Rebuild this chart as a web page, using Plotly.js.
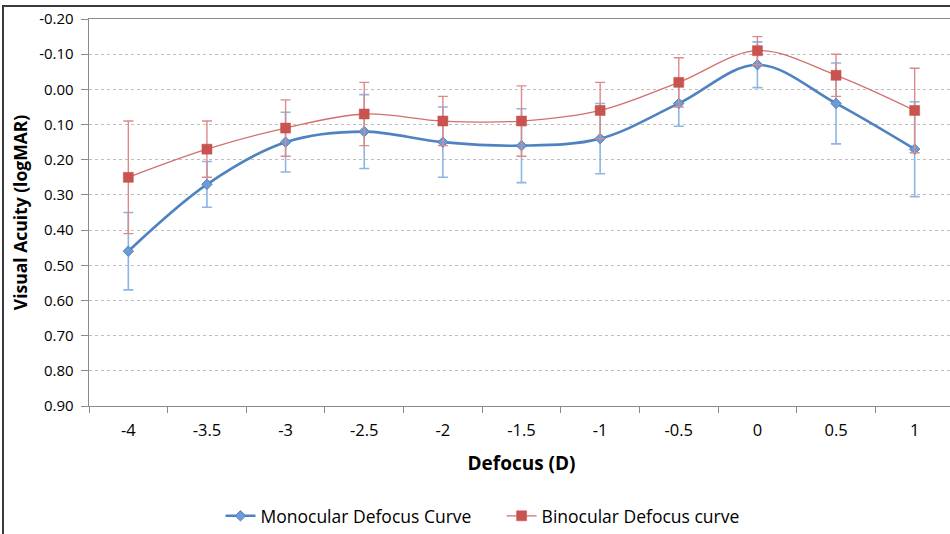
<!DOCTYPE html>
<html>
<head>
<meta charset="utf-8">
<script src="https://cdn.plot.ly/plotly-3.0.1.min.js"></script>
<style>
  html, body { margin: 0; padding: 0; background: #fff; overflow: hidden; width: 950px; height: 534px; }
  #chart { position: absolute; left: 0; top: 0; width: 960px; height: 534px; }
  #frame { position: absolute; left: 2px; top: 5px; width: 1000px; height: 600px;
           border-left: 2px solid #3a3a3a; border-top: 2px solid #3a3a3a; pointer-events: none; }
</style>
</head>
<body>
<div id="chart"></div>
<div id="frame"></div>
<script>
// ---- data ----
const defocus = ['-4', '-3.5', '-3', '-2.5', '-2', '-1.5', '-1', '-0.5', '0', '0.5', '1'];
const monocular = [0.46, 0.27, 0.15, 0.12, 0.15, 0.16, 0.14, 0.04, -0.07, 0.04, 0.17];
const monocularErr = [0.11, 0.065, 0.085, 0.105, 0.10, 0.105, 0.10, 0.065, 0.065, 0.115, 0.135];
const binocular = [0.25, 0.17, 0.11, 0.07, 0.09, 0.09, 0.06, -0.02, -0.11, -0.04, 0.06];
const binocularErr = [0.16, 0.08, 0.08, 0.09, 0.07, 0.10, 0.08, 0.07, 0.04, 0.06, 0.12];
const yTickValues = [-0.2, -0.1, 0, 0.1, 0.2, 0.3, 0.4, 0.5, 0.6, 0.7, 0.8, 0.9];
const yTickLabels = ['-0.20', '-0.10', '0.00', '0.10', '0.20', '0.30', '0.40', '0.50', '0.60', '0.70', '0.80', '0.90'];

const FONT = 'Open Sans, Liberation Sans, sans-serif';

const traces = [
  {
    name: 'Monocular Defocus Curve', legend: 'legend',
    x: defocus, y: monocular, type: 'scatter', mode: 'lines+markers',
    line: { color: '#4f82c0', width: 2.6, shape: 'spline', smoothing: 1 },
    marker: { symbol: 'diamond', size: 8, color: '#6d9bd6', line: { color: '#4f82c0', width: 1 } },
    error_y: { type: 'data', array: monocularErr, visible: true, color: '#8db5e3', thickness: 1.6, width: 5 }
  },
  {
    name: 'Binocular Defocus curve', legend: 'legend2',
    x: defocus, y: binocular, type: 'scatter', mode: 'lines+markers',
    line: { color: '#d46e6b', width: 1.3, shape: 'spline', smoothing: 1 },
    marker: { symbol: 'square', size: 10, color: '#c9534f', line: { color: '#c0504d', width: 0.5 } },
    error_y: { type: 'data', array: binocularErr, visible: true, color: '#dc8a87', thickness: 1.4, width: 5 }
  }
];

const legendStyle = (xPos) => ({
  orientation: 'h', x: xPos, xanchor: 'left', y: -0.284, yanchor: 'middle',
  font: { family: FONT, size: 17.5, color: '#000' }, bgcolor: 'rgba(0,0,0,0)', itemclick: false
});

const layout = {
  width: 960, height: 534,
  margin: { l: 89, r: 6, t: 19, b: 128, autoexpand: false },
  paper_bgcolor: '#ffffff', plot_bgcolor: '#ffffff',
  font: { family: FONT, color: '#000', size: 15 },
  showlegend: true,
  legend: legendStyle(0.152),
  legend2: legendStyle(0.477),
  xaxis: {
    type: 'category', range: [-0.5, 10.5], fixedrange: true,
    showline: true, linecolor: '#8a8a8a', linewidth: 1.3, mirror: true,
    ticks: 'outside', ticklen: 6, tickcolor: '#8a8a8a', tickson: 'boundaries',
    ticklabelstandoff: 9,
    showgrid: false, zeroline: false,
    tickfont: { family: FONT, size: 16.5, color: '#000' },
    title: { text: '<b>Defocus (D)</b>', font: { family: FONT, size: 19, color: '#000' }, standoff: 16 }
  },
  yaxis: {
    range: [0.9, -0.2], fixedrange: true,
    tickvals: yTickValues, ticktext: yTickLabels,
    showline: true, linecolor: '#8a8a8a', linewidth: 1.3,
    ticks: 'outside', ticklen: 7, tickcolor: '#8a8a8a',
    ticklabelstandoff: 4,
    showgrid: true, gridcolor: '#bdbdbd', gridwidth: 1, griddash: '3px,3px',
    zeroline: false,
    tickfont: { family: FONT, size: 15, color: '#000' },
    title: { text: '<b>Visual Acuity (logMAR)</b>', font: { family: FONT, size: 17.5, color: '#000' }, standoff: 7 }
  }
};

Plotly.newPlot('chart', traces, layout, { staticPlot: true, displayModeBar: false });
</script>
</body>
</html>
